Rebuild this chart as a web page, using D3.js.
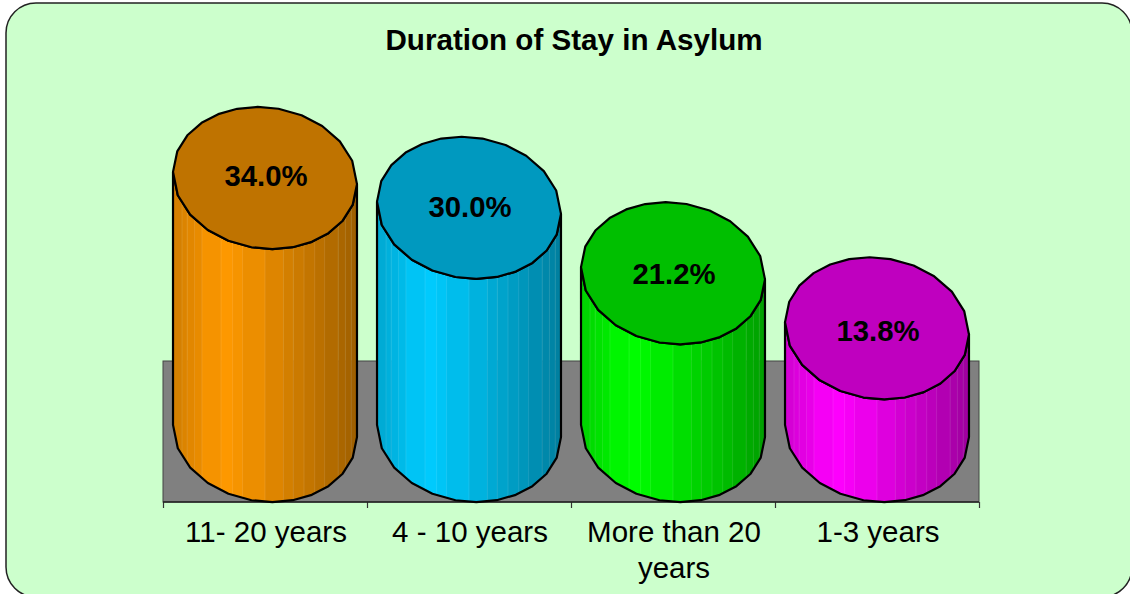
<!DOCTYPE html>
<html>
<head>
<meta charset="utf-8">
<script src="https://cdnjs.cloudflare.com/ajax/libs/d3/7.8.5/d3.min.js"></script>
<style>
  html, body { margin: 0; padding: 0; background: #fff; overflow: hidden; }
  svg { display: block; }
  text { font-family: "Liberation Sans", Arial, sans-serif; fill: #000; }
  .axis path { display: none; }
  .axis line { stroke: #333; stroke-width: 1.2; }
</style>
</head>
<body>
<div id="chart"></div>
<script>
// data
var categories = [["11- 20 years"], ["4 - 10 years"], ["More than 20", "years"], ["1-3 years"]];
var values = [34.0, 30.0, 21.2, 13.8];
var sideColors = ["#ff9900", "#00ccff", "#00ff00", "#ff00ff"];
var topColors = ["#bf7300", "#0099bf", "#00bf00", "#bf00bf"];

// polygon corners of the cylinder rim, in degrees (second half mirrors the first)
var rimAngles = [-6, 11, 26, 40, 53, 66, 79, 92, 107, 122, 138, 155];
// where the facets of the side start, as a fraction of the width
var facets = [0, .049, .077, .117, .157, .261, .324, .378, .5, .6, .654, .712, .77, .824, .898, .937, .969, 1];

var width = 1130, height = 594;
var plot = { left: 163, right: 979, top: 361, bottom: 502 };
var rx = 92.4, ry = 70.5, tilt = 8.4 * Math.PI / 180;

var svg = d3.select("#chart")
  .append("svg")
  .attr("width", width)
  .attr("height", height);

// Card
svg.append("rect")
  .attr("x", 6)
  .attr("y", 3)
  .attr("width", 1126)
  .attr("height", 594)
  .attr("rx", 30)
  .attr("fill", "#ccffcc")
  .attr("stroke", "#222")
  .attr("stroke-width", 1.5);

// Title
svg.append("text")
  .attr("x", 574)
  .attr("y", 50)
  .attr("text-anchor", "middle")
  .attr("font-weight", "bold")
  .attr("font-size", 29.6)
  .text("Duration of Stay in Asylum");

// Scales
var x = d3.scaleBand()
  .domain(d3.range(categories.length))
  .range([plot.left, plot.right]);

var xEdges = d3.scaleLinear()
  .domain([0, categories.length])
  .range([plot.left, plot.right]);

// baseline of the value scale is the centre of the bottom ellipse
var y = d3.scaleLinear()
  .domain([0, 34])
  .range([plot.bottom - 71, 178]);

// the data labels drift a little lower than the caps as the bars get shorter
var yLabel = d3.scaleLinear()
  .domain([13.8, 34])
  .range([341, 186]);

// Floor of the plot
svg.append("rect")
  .attr("x", plot.left)
  .attr("y", plot.top)
  .attr("width", plot.right - plot.left)
  .attr("height", plot.bottom - plot.top)
  .attr("fill", "#808080")
  .attr("stroke", "#444")
  .attr("stroke-width", 1);

svg.append("g")
  .attr("class", "axis")
  .attr("transform", "translate(0," + plot.bottom + ")")
  .call(d3.axisBottom(xEdges)
    .ticks(categories.length)
    .tickFormat("")
    .tickSizeInner(6)
    .tickSizeOuter(0));

svg.append("line")
  .attr("x1", plot.left)
  .attr("x2", plot.right)
  .attr("y1", plot.bottom)
  .attr("y2", plot.bottom)
  .attr("stroke", "#222")
  .attr("stroke-width", 1.5);

// one rim point, tilted ellipse around (cx, cy)
function rimPoint(cx, cy, deg) {
  var t = deg * Math.PI / 180;
  var ex = rx * Math.cos(t), ey = ry * Math.sin(t);
  return [
    cx + ex * Math.cos(tilt) - ey * Math.sin(tilt),
    cy + ex * Math.sin(tilt) + ey * Math.cos(tilt)
  ];
}

var halfAngles = rimAngles.concat([rimAngles[0] + 180]);
var allAngles = rimAngles.concat(rimAngles.map(function(d) { return d + 180; }));
var line = d3.line();
var defs = svg.append("defs");

// shade of a facet, brightest about a quarter of the way across
var shade = d3.scaleLinear().domain([0, .27, .5, 1]).range([.82, 1, .9, .62]);

var bars = svg.selectAll(".bar")
  .data(values)
  .enter().append("g")
  .attr("class", "bar");

bars.each(function(v, i) {
  var g = d3.select(this);
  var cx = x(i) + x.bandwidth() / 2;
  var cyTop = y(v), cyBottom = y(0);

  // silhouette: front of the lower rim, then straight up and back along the upper one
  var lower = halfAngles.map(function(d) { return rimPoint(cx, cyBottom, d); });
  var upper = halfAngles.map(function(d) { return rimPoint(cx, cyTop, d); }).reverse();
  var side = line(lower.concat(upper)) + "Z";

  var left = d3.min(lower, function(d) { return d[0]; });
  var right = d3.max(lower, function(d) { return d[0]; });
  var fx = d3.scaleLinear().domain([0, 1]).range([left, right]);
  var color = d3.rgb(sideColors[i]);

  defs.append("clipPath")
    .attr("id", "side-" + i)
    .append("path")
    .attr("d", side);

  var strips = g.append("g")
    .attr("clip-path", "url(#side-" + i + ")");

  strips.selectAll("rect")
    .data(facets.slice(0, -1))
    .enter().append("rect")
    .attr("x", function(d) { return fx(d); })
    .attr("y", cyTop - ry - 5)
    .attr("width", function(d, j) { return fx(facets[j + 1]) - fx(d) + .5; })
    .attr("height", cyBottom - cyTop + 2 * ry + 10)
    .attr("fill", function(d, j) {
      var k = shade((d + facets[j + 1]) / 2);
      return d3.rgb(color.r * k, color.g * k, color.b * k);
    });

  strips.selectAll("line")
    .data(facets.slice(1, -1))
    .enter().append("line")
    .attr("x1", function(d) { return fx(d); })
    .attr("x2", function(d) { return fx(d); })
    .attr("y1", cyTop - ry - 5)
    .attr("y2", cyBottom + ry + 5)
    .attr("stroke", "#fff")
    .attr("stroke-opacity", .1)
    .attr("stroke-width", 1);

  g.append("path")
    .attr("d", side)
    .attr("fill", "none")
    .attr("stroke", "#000")
    .attr("stroke-width", 2.2)
    .attr("stroke-linejoin", "round");

  g.append("path")
    .attr("d", line(allAngles.map(function(d) { return rimPoint(cx, cyTop, d); })) + "Z")
    .attr("fill", topColors[i])
    .attr("stroke", "#000")
    .attr("stroke-width", 2.2)
    .attr("stroke-linejoin", "round");

  g.append("text")
    .attr("x", cx + 1)
    .attr("y", yLabel(v))
    .attr("text-anchor", "middle")
    .attr("font-weight", "bold")
    .attr("font-size", 29.3)
    .text(v.toFixed(1) + "%");
});

// Category labels
var labels = svg.selectAll(".label")
  .data(categories)
  .enter().append("text")
  .attr("class", "label")
  .attr("text-anchor", "middle")
  .attr("font-size", 29.5);

labels.selectAll("tspan")
  .data(function(d, i) { return d.map(function(s) { return { s: s, i: i }; }); })
  .enter().append("tspan")
  .attr("x", function(d) { return x(d.i) + x.bandwidth() / 2 + 1; })
  .attr("y", function(d, j) { return 542 + j * 36; })
  .text(function(d) { return d.s; });
</script>
</body>
</html>
